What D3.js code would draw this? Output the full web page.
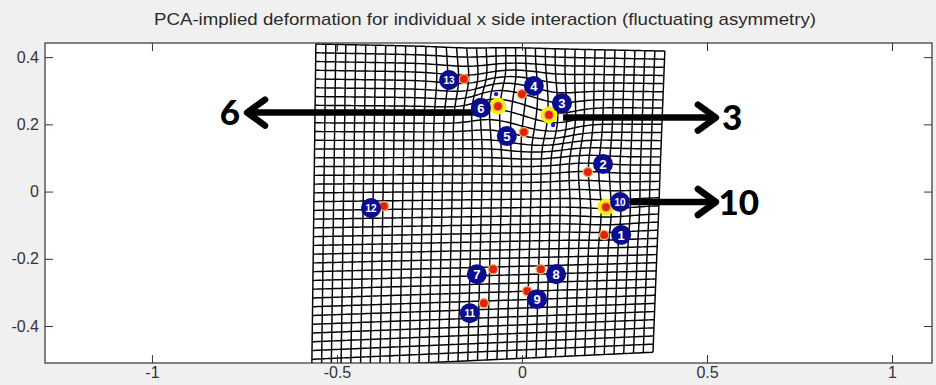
<!DOCTYPE html>
<html>
<head>
<meta charset="utf-8">
<script src="https://cdn.jsdelivr.net/npm/d3@7"></script>
<style>
  body { margin: 0; background: #f0f0f0; }
  svg { display: block; }
</style>
</head>
<body>
<div id="chart"></div>
<script>
const title = 'PCA-implied deformation for individual x side interaction (fluctuating asymmetry)';
const xTicks = [-1, -0.5, 0, 0.5, 1];
const yTicks = [0.4, 0.2, 0, -0.2, -0.4];
const xDomain = [-1.289, 1.108];
const yDomain = [-0.51, 0.442];

// landmarks (red dots) and their numbered labels
const landmarkIds = [1, 2, 3, 4, 5, 6, 7, 8, 9, 10, 11, 12, 13];
const landmarkX = [0.222, 0.178, 0.073, 0.000, 0.005, -0.065, -0.078, 0.051, 0.014, 0.227, -0.103, -0.373, -0.157];
const landmarkY = [-0.129, 0.058, 0.228, 0.290, 0.177, 0.254, -0.231, -0.231, -0.296, -0.046, -0.332, -0.043, 0.335];
const labelX = [0.268, 0.219, 0.108, 0.032, -0.041, -0.111, -0.122, 0.092, 0.041, 0.265, -0.141, -0.408, -0.197];
const labelY = [-0.129, 0.082, 0.263, 0.314, 0.165, 0.249, -0.246, -0.246, -0.320, -0.031, -0.362, -0.049, 0.332];
const highlighted = [6, 3, 10];

// tips of the displacement vectors (small blue marks)
const vectorIds = [6, 3];
const vectorX = [-0.070, 0.084];
const vectorY = [0.290, 0.198];

// deformation grid: corners TL, TR, BR, BL and local warps at landmarks
const gridCornerX = [-0.557, 0.386, 0.354, -0.568];
const gridCornerY = [0.439, 0.418, -0.478, -0.525];
const gridCols = 35;
const gridRows = 37;
const warpIds = [6, 3, 4, 13, 5, 2, 10];
const warpDX = [-0.015, 0.012, 0.01, 0.012, -0.006, -0.008, 0.006];
const warpDY = [0.022, -0.022, 0.012, -0.01, -0.01, 0.008, -0.008];
const warpSigma = 0.06;

// annotation arrows
const arrowLabels = ['6', '3', '10'];
const arrowFromX = [-0.12, 0.111, 0.292];
const arrowToX = [-0.743, 0.524, 0.524];
const arrowY = [0.235, 0.220, -0.031];
const arrowTextX = [-0.789, 0.568, 0.586];

const W = 936, H = 385;
const plot = { left: 45, right: 932, top: 43, bottom: 363 };

const svg = d3.select('#chart').append('svg')
  .attr('width', W)
  .attr('height', H)
  .style('font-family', '"Liberation Sans", Arial, sans-serif');

const x = d3.scaleLinear().domain(xDomain).range([plot.left, plot.right]);
const y = d3.scaleLinear().domain(yDomain).range([plot.bottom, plot.top]);

svg.append('text')
  .attr('x', 485)
  .attr('y', 25)
  .attr('text-anchor', 'middle')
  .attr('font-size', 17)
  .attr('fill', '#2a2a2a')
  .attr('textLength', 662)
  .attr('lengthAdjust', 'spacingAndGlyphs')
  .text(title);

svg.append('rect')
  .attr('x', plot.left).attr('y', plot.top)
  .attr('width', plot.right - plot.left).attr('height', plot.bottom - plot.top)
  .attr('fill', '#fff');

svg.append('clipPath').attr('id', 'clip')
  .append('rect')
  .attr('x', plot.left).attr('y', plot.top)
  .attr('width', plot.right - plot.left).attr('height', plot.bottom - plot.top);

// build warped grid
const byId = id => landmarkIds.indexOf(id);
function node(u, v) {
  const px = (1 - u) * (1 - v) * gridCornerX[0] + u * (1 - v) * gridCornerX[1] + u * v * gridCornerX[2] + (1 - u) * v * gridCornerX[3];
  const py = (1 - u) * (1 - v) * gridCornerY[0] + u * (1 - v) * gridCornerY[1] + u * v * gridCornerY[2] + (1 - u) * v * gridCornerY[3];
  let dx = 0, dy = 0;
  warpIds.forEach((id, k) => {
    const i = byId(id);
    const r2 = (px - landmarkX[i]) ** 2 + (py - landmarkY[i]) ** 2;
    const w = Math.exp(-r2 / (2 * warpSigma * warpSigma));
    dx += warpDX[k] * w;
    dy += warpDY[k] * w;
  });
  return [px + dx, py + dy];
}

const gridLines = [];
for (let r = 0; r <= gridRows; r++) {
  gridLines.push(d3.range(gridCols * 4 + 1).map(c => node(c / (gridCols * 4), r / gridRows)));
}
for (let c = 0; c <= gridCols; c++) {
  gridLines.push(d3.range(gridRows * 4 + 1).map(r => node(c / gridCols, r / (gridRows * 4))));
}

const line = d3.line().x(d => x(d[0])).y(d => y(d[1]));

svg.append('g')
  .attr('clip-path', 'url(#clip)')
  .selectAll('path')
  .data(gridLines)
  .enter()
  .append('path')
  .attr('d', line)
  .attr('fill', 'none')
  .attr('stroke', '#000')
  .attr('stroke-width', 1.45);

// axes with ticks on all four sides, pointing inwards
const tickFont = g => g.selectAll('text').attr('font-size', 16).attr('fill', '#333')
  .style('font-family', '"Liberation Sans", Arial, sans-serif');
const fmt = d => String(d);

svg.append('g')
  .attr('transform', `translate(0,${plot.bottom})`)
  .call(d3.axisBottom(x).tickValues(xTicks).tickSizeInner(-8).tickSizeOuter(0).tickPadding(4).tickFormat(fmt))
  .call(g => g.select('.domain').remove())
  .call(tickFont);
svg.append('g')
  .attr('transform', `translate(0,${plot.top})`)
  .call(d3.axisTop(x).tickValues(xTicks).tickSizeInner(-8).tickSizeOuter(0).tickFormat(''))
  .call(g => g.select('.domain').remove());
svg.append('g')
  .attr('transform', `translate(${plot.left},0)`)
  .call(d3.axisLeft(y).tickValues(yTicks).tickSizeInner(-8).tickSizeOuter(0).tickPadding(6).tickFormat(fmt))
  .call(g => g.select('.domain').remove())
  .call(tickFont);
svg.append('g')
  .attr('transform', `translate(${plot.right},0)`)
  .call(d3.axisRight(y).tickValues(yTicks).tickSizeInner(-8).tickSizeOuter(0).tickFormat(''))
  .call(g => g.select('.domain').remove());
svg.selectAll('.tick line').attr('stroke', '#333');

svg.append('rect')
  .attr('x', plot.left).attr('y', plot.top)
  .attr('width', plot.right - plot.left).attr('height', plot.bottom - plot.top)
  .attr('fill', 'none')
  .attr('stroke', '#333')
  .attr('stroke-width', 1.2);

// arrows
const arrows = svg.append('g');
arrowLabels.forEach((lab, i) => {
  const x0 = x(arrowFromX[i]), x1 = x(arrowToX[i]), yy = y(arrowY[i]);
  const dir = x1 < x0 ? 1 : -1;
  arrows.append('line')
    .attr('x1', x0).attr('x2', x1 + dir * 3).attr('y1', yy).attr('y2', yy)
    .attr('stroke', '#000').attr('stroke-width', 6.5);
  arrows.append('path')
    .attr('d', `M${x1 + dir * 18},${yy - 13}L${x1},${yy}L${x1 + dir * 18},${yy + 13}`)
    .attr('fill', 'none').attr('stroke', '#000').attr('stroke-width', 6.5)
    .attr('stroke-linecap', 'round').attr('stroke-linejoin', 'round');
  arrows.append('text')
    .attr('x', x(arrowTextX[i])).attr('y', yy)
    .attr('dy', '0.36em')
    .attr('text-anchor', 'middle')
    .attr('font-size', 35)
    .attr('font-weight', 900)
    .style('font-family', 'Lato, "DejaVu Sans", sans-serif')
    .attr('fill', '#000')
    .text(lab);
});

// landmarks
const marks = svg.append('g');
marks.selectAll('.hl')
  .data(highlighted)
  .enter().append('circle')
  .attr('cx', id => x(landmarkX[byId(id)]))
  .attr('cy', id => y(landmarkY[byId(id)]))
  .attr('r', 8.5)
  .attr('fill', '#f4f200');

marks.selectAll('.vec')
  .data(vectorIds)
  .enter().append('circle')
  .attr('cx', (d, i) => x(vectorX[i]))
  .attr('cy', (d, i) => y(vectorY[i]))
  .attr('r', 2.2)
  .attr('fill', '#1a1ad0');

marks.selectAll('.halo')
  .data(landmarkIds)
  .enter().append('circle')
  .attr('cx', (d, i) => x(landmarkX[i]))
  .attr('cy', (d, i) => y(landmarkY[i]))
  .attr('r', 5.3)
  .attr('fill', '#e6b060');

marks.selectAll('.dot')
  .data(landmarkIds)
  .enter().append('circle')
  .attr('cx', (d, i) => x(landmarkX[i]))
  .attr('cy', (d, i) => y(landmarkY[i]))
  .attr('r', 3.9)
  .attr('fill', '#e4220c');

const labels = marks.selectAll('.lab')
  .data(landmarkIds)
  .enter().append('g')
  .attr('transform', (d, i) => `translate(${x(labelX[i])},${y(labelY[i])})`);
labels.append('circle')
  .attr('r', 10)
  .attr('fill', '#0c0c8e');
labels.append('text')
  .attr('text-anchor', 'middle')
  .attr('dy', '0.36em')
  .attr('font-size', d => d > 9 ? 10 : 13)
  .attr('font-weight', 'bold')
  .attr('fill', '#fff')
  .text(d => d);
</script>
</body>
</html>
